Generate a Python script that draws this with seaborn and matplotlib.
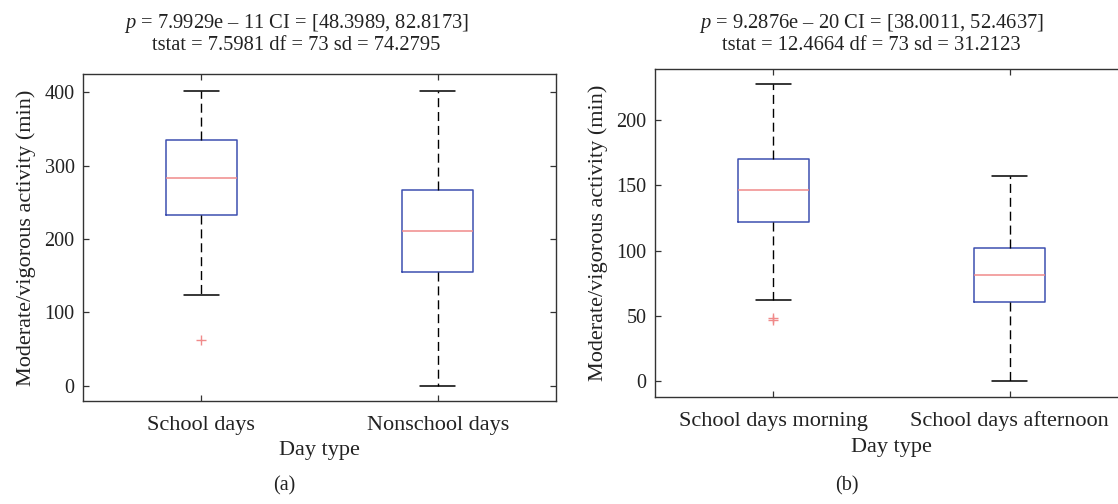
import numpy as np
import pandas as pd
import matplotlib
matplotlib.use("Agg")
import matplotlib.pyplot as plt
import seaborn as sns

# ---------------- data ----------------
# Panel (a)
a_categories = ["School days", "Nonschool days"]
a_low_whisker = [123.6, 0.0]
a_q1 = [232.7, 155.4]
a_median = [283.6, 210.9]
a_q3 = [334.6, 266.8]
a_high_whisker = [402.0, 402.0]
a_outlier_cats = ["School days"]
a_outlier_vals = [62.3]
a_yticks = [0, 100, 200, 300, 400]
a_title1 = "$p$ = 7.9929e – 11 CI = [48.3989, 82.8173]"
a_title2 = "tstat = 7.5981 df = 73 sd = 74.2795"

# Panel (b)
b_categories = ["School days morning", "School days afternoon"]
b_low_whisker = [62.5, 0.0]
b_q1 = [121.8, 60.8]
b_median = [146.1, 81.5]
b_q3 = [170.1, 102.1]
b_high_whisker = [227.8, 157.3]
b_outlier_cats = ["School days morning", "School days morning"]
b_outlier_vals = [48.7, 46.7]
b_yticks = [0, 50, 100, 150, 200]
b_title1 = "$p$ = 9.2876e – 20 CI = [38.0011, 52.4637]"
b_title2 = "tstat = 12.4664 df = 73 sd = 31.2123"

xlabel = "Day type"
ylabel = "Moderate/vigorous activity (min)"

# ---------------- style ----------------
sns.set_theme(style="white")
plt.rcParams["font.family"] = ["Liberation Serif", "DejaVu Serif"]
plt.rcParams["mathtext.fontset"] = "custom"
plt.rcParams["mathtext.rm"] = "Liberation Serif"
plt.rcParams["mathtext.it"] = "Liberation Serif:italic"

BLUE = "#3d4fb0"
RED = "#f08a8a"
SPINE = "#333333"
TXT = "#222222"
FS_TITLE = 14.8
FS_YTICK = 14.5
FS_LABEL = 16

W, H = 1118, 504
fig = plt.figure(figsize=(W / 100, H / 100), dpi=100)


def px_axes(x0, y0, x1, y1):
    return fig.add_axes([x0 / W, 1 - y1 / H, (x1 - x0) / W, (y1 - y0) / H])


def summary_frame(cats, low, q1, med, q3, high):
    rows = []
    for c, a, b, m, d, e in zip(cats, low, q1, med, q3, high):
        for v in (a, b, m, d, e):
            rows.append({"day": c, "value": v})
    return pd.DataFrame(rows)


def draw(ax, cats, low, q1, med, q3, high, ocats, ovals, yticks, ylim):
    df = summary_frame(cats, low, q1, med, q3, high)
    sns.boxplot(data=df, x="day", y="value", order=cats, width=0.3,
                whis=(0, 100), fill=False, color=BLUE, linewidth=1.1,
                showfliers=False,
                medianprops=dict(color=RED, linewidth=1.1),
                whiskerprops=dict(color="black", linestyle=(0, (6.5, 3.5)), linewidth=1.0),
                capprops=dict(color="black", linewidth=1.1),
                ax=ax)
    sns.stripplot(x=ocats, y=ovals, order=cats, jitter=False, marker="+",
                  color=RED, size=7, linewidth=1.0, ax=ax)
    ax.set_xlim(-0.5, 1.5)
    ax.set_ylim(*ylim)
    ax.set_yticks(yticks)
    ax.set_xticks(range(len(cats)))
    ax.set_xticklabels(cats)
    ax.tick_params(axis="both", direction="in", length=4, width=0.9,
                   colors=SPINE, labelcolor=TXT,
                   top=True, right=True, bottom=True, left=True)
    ax.tick_params(axis="y", labelsize=FS_YTICK, pad=6)
    ax.tick_params(axis="x", labelsize=FS_LABEL, pad=10.5)
    for s in ax.spines.values():
        s.set_color(SPINE)
        s.set_linewidth(1.0)
        s.set_visible(True)
    ax.set_xlabel(xlabel, fontsize=FS_LABEL, color=TXT, labelpad=4.5)
    ax.set_ylabel(ylabel, fontsize=FS_LABEL, color=TXT, labelpad=6)


ax1 = px_axes(83, 74, 556, 401)
draw(ax1, a_categories, a_low_whisker, a_q1, a_median, a_q3, a_high_whisker,
     a_outlier_cats, a_outlier_vals, a_yticks, (-21, 425))

ax2 = px_axes(655, 69, 1128, 397)
draw(ax2, b_categories, b_low_whisker, b_q1, b_median, b_q3, b_high_whisker,
     b_outlier_cats, b_outlier_vals, b_yticks, (-12, 239))

# titles
fig.text(296 / W, 1 - 28 / H, a_title1, ha="center", va="baseline", fontsize=FS_TITLE, color=TXT)
fig.text(296 / W, 1 - 50 / H, a_title2, ha="center", va="baseline", fontsize=FS_TITLE, color=TXT)
fig.text(871 / W, 1 - 28 / H, b_title1, ha="center", va="baseline", fontsize=FS_TITLE, color=TXT)
fig.text(871 / W, 1 - 50 / H, b_title2, ha="center", va="baseline", fontsize=FS_TITLE, color=TXT)

fig.text(284 / W, 1 - 490 / H, "(a)", ha="center", va="baseline", fontsize=FS_YTICK, color=TXT)
fig.text(847 / W, 1 - 490 / H, "(b)", ha="center", va="baseline", fontsize=FS_YTICK, color=TXT)

fig.savefig("out.png", dpi=100)
